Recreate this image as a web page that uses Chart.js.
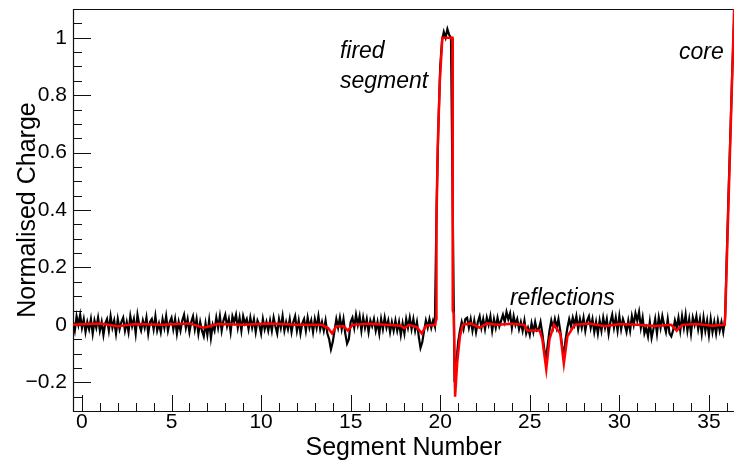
<!DOCTYPE html>
<html>
<head>
<meta charset="utf-8">
<script src="https://cdn.jsdelivr.net/npm/chart.js@4/dist/chart.umd.min.js"></script>
<style>
  html, body { margin: 0; padding: 0; background: #fff; overflow: hidden; }
  canvas { display: block; }
</style>
</head>
<body>
<canvas id="c" width="734" height="463"></canvas>
<script>
// ---- Data ----
// Black trace: measured signal, sampled every 0.1 segment starting at -0.5
const blackStart = -0.5;
const blackStep = 0.1;
const blackY = [
  0.01, -0.02, 0.03, 0.0, 0.035, -0.01, 0.02, -0.025, 0.01, -0.015,
  0.02, -0.03, 0.015, -0.01, 0.025, -0.02, 0.01, -0.035, 0.005, 0.02,
  -0.02, 0.03, -0.01, 0.015, -0.03, 0.02, -0.015, 0.01, 0.025, -0.02,
  0.01, -0.025, 0.03, -0.005, 0.02, -0.03, 0.035, 0.0, -0.02, 0.015,
  -0.01, 0.025, -0.03, 0.01, 0.02, -0.015, 0.03, -0.02, 0.005, -0.025,
  0.02, -0.01, 0.03, -0.02, 0.01, 0.025, -0.015, 0.02, -0.03, 0.01,
  -0.02, 0.015, 0.035, -0.01, 0.02, -0.025, 0.01, 0.03, -0.015, 0.02,
  -0.03, 0.01, -0.02, -0.04, 0.005, -0.035, 0.015, -0.045, 0.0, -0.02,
  0.025, -0.01, 0.03, -0.02, 0.015, 0.035, -0.005, 0.02, -0.025, 0.03,
  0.01, 0.035, -0.01, 0.025, -0.02, 0.03, 0.005, 0.02, -0.015, 0.025,
  -0.01, 0.02, -0.025, 0.015, 0.0, -0.03, 0.02, -0.015, 0.01, -0.02,
  0.015, -0.02, 0.025, -0.005, -0.03, 0.02, -0.01, 0.03, -0.02, 0.01,
  -0.015, 0.02, -0.025, 0.01, 0.03, -0.02, 0.015, -0.03, 0.005, 0.02,
  -0.02, 0.025, -0.01, 0.015, -0.025, 0.02, -0.01, 0.03, -0.015, 0.01,
  -0.02, 0.015, -0.03, -0.05, -0.085, -0.06, -0.02, 0.02, -0.01, 0.025,
  -0.015, 0.02, -0.03, -0.065, -0.05, 0.01, 0.025, -0.01, 0.035, 0.0,
  0.03, -0.02, 0.025, -0.01, 0.02, -0.025, 0.015, -0.005, 0.02, -0.02,
  0.01, -0.03, 0.02, -0.015, 0.025, -0.01, 0.015, -0.025, 0.01, -0.02,
  0.015, -0.02, 0.01, -0.035, 0.005, -0.03, 0.02, -0.01, 0.025, -0.015,
  0.02, -0.02, 0.01, -0.04, -0.08, -0.06, -0.02, 0.015, -0.01, 0.02,
  -0.01, 0.015, -0.005, 0.42, 0.7, 0.9, 0.99, 1.02, 1.0, 1.03,
  1.01, 1.0, 0.4, -0.2, -0.13, -0.06, -0.02, 0.01, -0.015, 0.02,
  0.025, -0.01, 0.02, -0.02, 0.015, -0.025, 0.01, 0.03, -0.01, 0.02,
  -0.015, 0.025, 0.0, 0.03, -0.02, 0.02, -0.01, 0.025, -0.005, 0.015,
  0.035, 0.01, 0.045, 0.02, 0.04, -0.01, 0.03, 0.0, 0.02, -0.015,
  0.01, -0.02, 0.015, -0.03, -0.01, -0.035, 0.005, -0.025, 0.01, -0.02,
  -0.015, 0.01, -0.03, -0.08, -0.12, -0.07, -0.02, 0.015, -0.01, 0.02,
  -0.01, 0.02, -0.02, -0.07, -0.11, -0.05, -0.01, 0.02, -0.005, 0.025,
  0.0, 0.03, -0.015, 0.02, -0.01, 0.025, -0.02, 0.015, 0.03, -0.01,
  0.02, -0.025, 0.01, -0.03, 0.015, -0.02, 0.025, -0.01, 0.02, -0.03,
  0.01, 0.035, -0.01, 0.025, -0.02, 0.03, -0.015, 0.02, 0.0, -0.025,
  0.015, -0.02, 0.03, 0.0, 0.04, 0.015, 0.045, -0.01, 0.025, -0.03,
  -0.01, -0.04, 0.01, -0.045, -0.015, 0.02, -0.03, 0.025, -0.01, 0.03,
  0.0, -0.025, 0.02, -0.03, -0.04, -0.02, 0.015, -0.01, 0.025, -0.02,
  0.03, -0.01, 0.035, -0.02, 0.02, -0.03, 0.025, 0.0, 0.03, -0.015,
  0.02, -0.03, 0.025, -0.02, 0.015, -0.035, 0.02, -0.025, 0.01, -0.03,
  0.015, -0.02, 0.01, -0.025, 0.02, 0.25, 0.47, 0.67, 0.88, 1.05
];

// Red trace: fitted / simulated pulse
const redX = [
  -0.5, 1.0, 2.0, 3.0, 4.5, 6.0, 6.8, 7.6, 9.0, 10.5,
  12.0, 13.4, 13.75, 13.96, 14.2, 14.6, 14.85, 15.1, 16.0, 17.0,
  17.8, 18.0, 18.25, 18.7, 18.97, 19.2, 19.72, 19.77, 19.79, 19.86,
  19.98, 20.12, 20.68, 20.70, 20.76, 20.83, 20.95, 21.1, 21.25, 21.7,
  22.2, 22.6, 23.2, 24.0, 24.7, 24.85, 25.55, 25.7, 25.92, 26.1,
  26.35, 26.7, 26.9, 27.1, 27.5, 28.3, 29.2, 30.0, 31.0, 32.0,
  32.9, 33.2, 33.5, 34.3, 35.2, 35.88, 35.92, 36.37, 36.5
];
const redY = [
  0.0, 0.005, -0.005, 0.003, 0.0, 0.005, -0.01, 0.003, 0.0, 0.005,
  0.0, 0.0, -0.012, -0.03, -0.005, -0.005, -0.02, 0.0, 0.004, 0.0,
  -0.003, -0.012, 0.0, -0.008, -0.03, -0.003, 0.0, 0.02, 0.35, 0.62,
  0.85, 1.0, 1.0, 0.05, 0.04, -0.25, -0.13, -0.04, 0.0, 0.005,
  -0.01, 0.005, 0.0, 0.004, 0.0, -0.02, -0.02, -0.05, -0.155, -0.05,
  0.0, -0.03, -0.135, -0.04, 0.0, 0.005, -0.005, 0.003, 0.0, -0.004,
  0.0, -0.02, 0.0, 0.003, -0.003, 0.0, 0.05, 1.02, 1.3
];

// Axes (visible window of the plot; the frame continues past the right edge)
const xMin = -0.5, xMax = 36.4;
const yMin = -0.3, yMax = 1.1;
const xTickValues = [0, 5, 10, 15, 20, 25, 30, 35];
const xTickLabels = ['0', '5', '10', '15', '20', '25', '30', '35'];
const xMinorTicks = [1,2,3,4,6,7,8,9,11,12,13,14,16,17,18,19,21,22,23,24,26,27,28,29,31,32,33,34,36];
const yTickValues = [-0.2, 0, 0.2, 0.4, 0.6, 0.8, 1];
const yTickLabels = ['\u22120.2', '0', '0.2', '0.4', '0.6', '0.8', '1'];
const yMinorTicks = [-0.25,-0.15,-0.1,-0.05,0.05,0.1,0.15,0.25,0.3,0.35,0.45,0.5,0.55,0.65,0.7,0.75,0.85,0.9,0.95,1.05];

// Annotations (text, data position)
const annoText = ['fired', 'segment', 'reflections', 'core'];
const annoX = [14.4, 14.4, 23.89, 33.33];
const annoY = [0.951, 0.847, 0.091, 0.948];

const FONT = '"Liberation Sans", Arial, Helvetica, sans-serif';

const blackData = blackY.map((v, i) => ({ x: blackStart + i * blackStep, y: v }));
const redData = redX.map((v, i) => ({ x: v, y: redY[i] }));

const frameTicks = {
  id: 'frameTicks',
  beforeDatasetsDraw(chart) {
    const { ctx, chartArea: a, scales: { x, y } } = chart;
    ctx.save();
    ctx.strokeStyle = '#111';
    ctx.lineWidth = 1;
    ctx.beginPath();
    xTickValues.forEach(v => {
      const p = Math.round(x.getPixelForValue(v)) + 0.5;
      ctx.moveTo(p, a.bottom); ctx.lineTo(p, a.bottom - 16);
    });
    xMinorTicks.forEach(v => {
      const p = Math.round(x.getPixelForValue(v)) + 0.5;
      ctx.moveTo(p, a.bottom); ctx.lineTo(p, a.bottom - 8);
    });
    yTickValues.forEach(v => {
      const p = Math.round(y.getPixelForValue(v)) + 0.5;
      ctx.moveTo(a.left, p); ctx.lineTo(a.left + 18, p);
    });
    yMinorTicks.forEach(v => {
      const p = Math.round(y.getPixelForValue(v)) + 0.5;
      ctx.moveTo(a.left, p); ctx.lineTo(a.left + 9, p);
    });
    ctx.stroke();
    // frame: top, left, bottom (right side lies outside the picture)
    const L = Math.round(a.left) + 0.5, T = Math.round(a.top) + 0.5;
    const B = Math.round(a.bottom) + 0.5, R = a.right + 10;
    ctx.lineWidth = 1.2;
    ctx.beginPath();
    ctx.moveTo(R, T); ctx.lineTo(L, T); ctx.lineTo(L, B); ctx.lineTo(R, B);
    ctx.stroke();
    ctx.restore();
  },
  afterDatasetsDraw(chart) {
    const { ctx, scales: { x, y } } = chart;
    ctx.save();
    ctx.fillStyle = '#000';
    ctx.font = 'italic 23px ' + FONT;
    ctx.textAlign = 'left';
    ctx.textBaseline = 'middle';
    annoText.forEach((t, i) => {
      ctx.fillText(t, x.getPixelForValue(annoX[i]), y.getPixelForValue(annoY[i]));
    });
    ctx.restore();
  }
};

new Chart(document.getElementById('c'), {
  type: 'line',
  data: {
    datasets: [
      {
        data: redData,
        borderColor: '#ff0000',
        borderWidth: 2.5,
        pointRadius: 0,
        tension: 0,
        order: 0
      },
      {
        data: blackData,
        borderColor: '#000000',
        borderWidth: 2.2,
        pointRadius: 0,
        tension: 0,
        order: 1
      }
    ]
  },
  options: {
    responsive: false,
    animation: false,
    events: [],
    layout: { padding: { top: 9, right: 0, left: 0, bottom: 0 } },
    plugins: { legend: { display: false }, tooltip: { enabled: false } },
    scales: {
      x: {
        type: 'linear',
        min: xMin, max: xMax,
        grid: { display: false, drawTicks: false },
        border: { display: false },
        afterBuildTicks: s => { s.ticks = xTickValues.map(v => ({ value: v })); },
        afterFit: s => { s.height = 52; s.paddingLeft = 0; s.paddingRight = 0; },
        ticks: {
          color: '#000',
          padding: -1,
          maxRotation: 0,
          autoSkip: false,
          font: { family: FONT, size: 21 },
          callback: v => { const k = xTickValues.indexOf(v); return k >= 0 ? xTickLabels[k] : ''; }
        },
        title: {
          display: true,
          text: 'Segment Number',
          color: '#000',
          font: { family: FONT, size: 25 },
          padding: { top: 0, bottom: 0 }
        }
      },
      y: {
        type: 'linear',
        min: yMin, max: yMax,
        grid: { display: false, drawTicks: false },
        border: { display: false },
        afterBuildTicks: s => { s.ticks = yTickValues.map(v => ({ value: v })); },
        afterFit: s => { s.width = 73; s.paddingTop = 0; s.paddingBottom = 0; },
        ticks: {
          color: '#000',
          padding: 6,
          autoSkip: false,
          font: { family: FONT, size: 21 },
          callback: v => {
            const k = yTickValues.findIndex(t => Math.abs(t - v) < 1e-9);
            return k >= 0 ? yTickLabels[k] : '';
          }
        },
        title: {
          display: true,
          text: 'Normalised Charge',
          color: '#000',
          font: { family: FONT, size: 25 },
          padding: { top: 13, bottom: 0 }
        }
      }
    }
  },
  plugins: [frameTicks]
});
</script>
</body>
</html>
